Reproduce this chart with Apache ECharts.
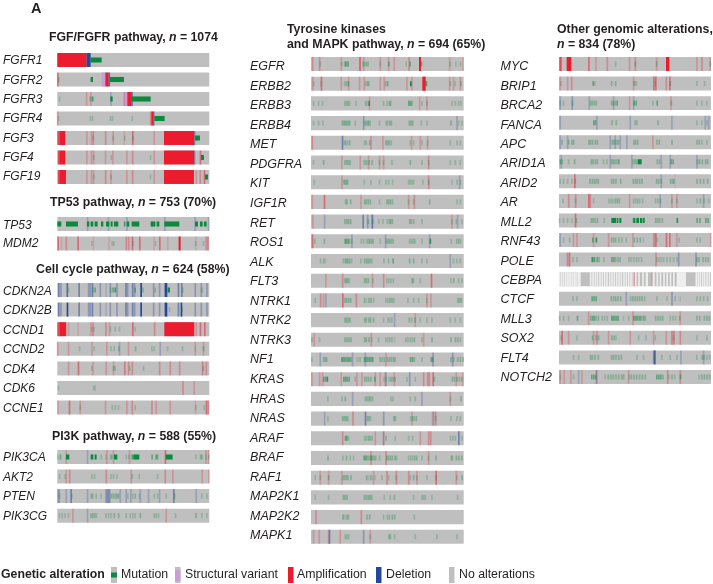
<!DOCTYPE html>
<html><head><meta charset="utf-8">
<style>html,body{margin:0;padding:0;background:#fff}#c{width:713px;height:584px;filter:blur(0.5px)}</style>
<script src="https://cdn.jsdelivr.net/npm/echarts@6/dist/echarts.min.js"></script>
</head><body><div id="c"></div>
<script>
// Sample positions along each track; entry = position, [position, span] or [position, span, density]. m mutation, s structural, a amplification, d deletion, n not profiled
const FGFR1={a:[[172,88]],d:[[260,12]],m:[[272,33]]};
const FGFR2={a:[[172,3],[316,10]],m:[[175,2],[272,7],[330,42]],s:[[305,11]],d:[[326,4]]};
const FGFR3={a:[259,272,372,[382,12]],m:[178,[270,2],[275,3],[279,2],[331,7]],s:[[372,10]],d:[332,[394,4]],M:[[394,58]]};
const FGFR4={a:[[172,2],[451,2],[454,7]],m:[175,271,277,331,337,396],d:[[461,2]],M:[[463,31]]};
const FGF3={a:[[172,6,0.7],[178,18],260,274,[279,2],[316,2],339,[372,1],[397,3],462,[492,91]],m:[279,339,374,398],d:[[583,2]],M:[[585,15]]};
const FGF4={a:[[174,4,0.7],[178,18],260,274,280,316,338,380,[397,2],462,[492,91],[600,3]],m:[281,333,451],d:[[583,2]],M:[[603,9]]};
const FGF19={a:[[174,4,0.7],[178,20],260,274,280,[316,2],332,380,[397,2],462,[492,90],588,[600,2],[612,3]],m:[281,333,451],M:[[615,9]]};
const TP53={M:[[172,12],[198,36],[261,7],[272,8],[284,9],[303,7],[318,10],[332,6],[342,13],[372,4],[380,8],[395,23],[452,14],[470,8],[493,45],[585,9],[600,8],[612,8]],d:[262,325,380,494,585,625]};
const MDM2={a:[[173,3],[184,1],[198,2],[233,3],[280,1],[327,1],[378,2],[385,2],[396,3],[418,3],[462,1],[478,3],[503,1],[536,6],[587,1],[618,2],[623,2]],m:[275,336,341,398,466,587,610]};
const CDKN2A={d:[[175,3],[182,2],[200,4],[236,3],[265,2],[270,2],[276,3],[300,2],[318,1],[330,2],[350,2],[376,4,0.5],[382,2],[396,4,0.5],[403,2],[421,5],[460,2],[478,2],[494,8],[534,3],[544,3],[585,2],[603,2],[620,2]],m:[205,[278,2],[284,3],[331,2],[338,3],[344,4,0.7],[404,3],[428,2],[465,2],[503,7],[547,2],[605,2]]};
const CDKN2B={d:[[175,3],[182,2],[200,5],[236,3],[265,2],[270,2],[276,3],[300,2],[318,1],[330,2],[350,2],[376,4,0.5],[382,2],[396,4,0.5],[403,2],[421,5],[460,2],[478,2],[494,8],[534,3],[542,5],[585,2],[603,2],[620,2]],m:[508,546]};
const CCND1={a:[[172,6,0.7],[178,20],[200,1],[206,1],[234,1],272,[278,2],[317,2],328,[397,3],[463,2],[493,90],588,[600,3],[613,3]],m:[275,281,331,345,358,405,545]};
const CCND2={a:[[172,2],205,275,320,385,585,610],d:[358,480],m:[238,282,332,342,[356,2],[406,2],455,462,502,547,[586,1],[610,2]]};
const CDK4={a:[205,[234,3],278,318,340,[372,5,0.4],[385,2],[396,2],[478,2],[510,2],[538,2],[606,4,0.4],[618,2]],m:[275,[340,2],345,388,430,610]};
const CDK6={a:[[548,2],582],m:[175,280,285]};
const CCNE1={a:[173,[207,3],240,316,380,[396,2],[455,2],468,510,[586,1],[618,3],[624,2]],m:[240,336,345,355,405,587,612]};
const PIK3CA={M:[[198,10],[272,8],[284,6],[342,10],[400,18],[497,21]],m:[173,[180,3],303,317,[331,2],[335,2],378,386,[395,4,0.6],[455,3],[467,3],[471,3],587,[601,2],[605,2],618,626],d:[262],a:[198,320,340,388,[495,3],617,625]};
const AKT2={a:[198,[208,2],[318,2],393,[495,2],518,606,626],m:[178,195,275,283,332,340,350,396,417,472]};
const PTEN={d:[[172,8,0.35],198,[212,3],262,[316,12,0.4],[328,2],360,378,392,420,445,478,[520,3],588],m:[178,215,[273,2],[277,2],288,303,[333,2],[339,2],[345,2],[350,2],[355,2],383,398,[405,2],418,462,472,498,[523,2],605,620]};
const PIK3CG={m:[178,186,195,205,272,276,280,284,289,317,325,332,[342,2],[355,2],378,390,398,405,[420,2],462,468,475,526,[587,2],605,620],a:[218,498],d:[262]};

const EGFR={a:[[217,2],[238,2],303,[358,4,0.6],370,420,445,462,[506,2],[537,6],628,668],m:[240,305,[314,3],[318,3],[323,3],368,[372,2],[378,2],[383,2],420,[445,3],498,[509,3],[543,3],630,647,660]};
const ERBB2={a:[218,[243,3],303,325,358,372,420,432,500,515,[547,10],628,640,660],m:[220,243,313,[318,2],[324,3],376,[381,2],[385,2],436,[441,3],[510,5],[557,4],630,645,[662,2]]};
const ERBB3={a:[388,538,560],m:[220,235,247,314,318,[323,2],328,347,376,380,[385,5,0.8],430,440,[447,2],[451,2],[505,3],[510,3],[515,2],545,560,635,645,655,662]};
const ERBB4={d:[[370,2],650],m:[220,235,248,[306,2],[311,2],[315,2],[319,2],[324,2],[328,2],345,[373,2],[378,2],[383,3],[389,2],418,438,442,[448,2],[453,2],[507,2],[512,2],[517,2],543,560,[632,2],655,665],a:[]};
const MET={a:[[216,2],[392,2],428,514,540,562],d:[[306,3]],m:[312,[316,2],322,[328,2],373,378,[388,2],[437,2],[442,2],[447,2],453,510,520,545,562,630,650,660]};
const PDGFRA={a:[305,360,385,418,430,[565,2]],m:[220,[250,2],[314,2],[319,2],[324,2],[329,2],372,376,380,[386,2],[395,2],418,430,455,[510,2],545,565,630,645,660]};
const KIT={a:[305,[565,2]],d:[658],m:[222,[310,2],[314,2],[318,2],[322,2],372,392,418,437,445,457,505,510,515,520,548,[565,2],635,650,660]};
const IGF1R={a:[216,[252,3],362,505,[522,2]],m:[[316,2],[320,2],[331,2],[373,2],[378,2],[384,2],[390,2],418,[440,2],[445,2],[450,2],[456,2],505,520,[568,2],650,660]};
const RET={a:[218,635],d:[253,[368,3],[382,2],[395,4,0.6],652],m:[[314,2],[320,2],[325,2],[331,2],[384,2],[397,2],416,428,441,[447,2],[451,2],[456,2],[508,2],[513,2],[520,2],545,635,648,665]};
const ROS1={a:[[216,3]],d:[335,436,568],m:[[223,2],[252,2],[314,3],[318,3],[323,3],[328,2],335,363,370,379,384,[388,2],[393,2],[398,2],420,437,[442,2],[447,2],[452,2],[458,2],508,513,518,[523,2],545,[569,4,0.8],633,[649,2],[655,2],661]};
const ALK={d:[630],m:[241,[250,2],[256,1],309,[315,2],[319,2],[323,2],[328,2],334,362,[373,2],[379,2],[384,2],[389,2],395,431,445,[458,3],[508,2],[520,2],545,560,640,650,660]};
const FLT3={a:[257,[307,2],397,[430,2],[573,3]],m:[[314,2],[318,2],[322,2],327,[373,2],[378,2],[384,2],397,440,446,452,459,[515,2],[519,2],540,632,[640,2],655,665]};
const NTRK1={a:[[241,2],250,[307,3],[348,2],560,572],d:[257],m:[225,[314,2],[319,2],[325,2],[331,2],[373,2],[379,1],[386,2],[392,2],400,437,443,[449,2],[455,2],461,503,520,535,560,[653,2],[658,2],[663,2]]};
const NTRK2={a:[525],d:[463],m:[[314,2],[319,2],[324,2],[329,2],[373,2],[378,2],[386,2],[391,2],[400,2],430,443,449,455,[507,2],515,[524,2],540,560,575,630,645,660]};
const NTRK3={a:[222,393,550],m:[[215,2],238,[314,2],[320,2],[326,2],[332,2],[373,2],[378,2],[386,2],394,415,437,443,449,455,[463,1],497,503,510,516,[522,2],545,[575,2],[632,2],[645,2],[652,2],660]};
const NF1={a:[437],d:[240,337,375,[578,2],[637,2]],m:[215,[250,2],[255,2],[259,2],[304,3],[350,1],[355,1],360,[419,2],[425,2],[432,2],[441,2],[447,2],[453,2],[459,2],[464,2],[510,3],[516,3],[522,2],545,[572,3],[577,3],[632,2],[640,2],[652,2],[660,2],[668,2],[308,3],[313,3],[318,3],[323,3],[328,3],[333,2],[372,3],[377,3],[382,3],[387,3],[392,3],[397,3]]};
const KRAS={a:[215,238,247,303,350,365,405,420,435,462,[550,2],[562,2],[567,2],[578,3],648,668],d:[437,[508,2]],m:[[250,3],[255,3],[260,4,0.8],[310,3],[315,3],[320,3],[326,3],345,[373,2],[379,2],[385,2],[392,2],[403,3],431,438,447,[452,2],[458,2],[464,2],500,525,[582,2],[636,2],[642,2],[650,2],[657,2],[664,2]]};
const HRAS={a:[630],d:[337,545],m:[263,305,[315,2],375,[380,2],[386,2],[391,2],397,452,458,510,525,630,[662,2]]};
const NRAS={a:[[338,2],515,577,[586,2]],d:[253,[375,3],[430,2],580],m:[263,[307,2],[312,2],[317,2],[322,2],[381,2],[386,2],391,[461,2],[465,2],511,[517,2],522,[528,2],[586,2],632,650,660]};
const ARAF={a:[[307,2],405,430,540,[565,2],[571,2]],d:[430,[655,3]],m:[[315,3],[319,3],325,373,378,[384,2],[389,2],[395,2],[437,2],465,505,517,631,638,645,665]};
const BRAF={a:[[392,2],[437,2],565],m:[[263,2],308,[318,2],330,340,[371,3],[376,3],[381,2],[386,2],[391,3],[396,2],[401,2],[406,2],418,[439,2],[444,2],[450,2],[456,2],[464,2],469,505,511,517,[523,2],[529,2],545,565,[587,2],633,[636,2],[648,2],[655,2],[664,2]]};
const RAF1={a:[240,265,305,400,[440,2],[468,2],[505,2],530,[587,3],648],m:[225,240,[265,2],[308,2],[313,2],[318,2],[323,2],[332,2],[379,2],[385,1],[391,2],[397,1],[405,1],425,445,468,510,[520,2],530,560,587,650,[665,2]]};
const MAP2K1={m:[225,265,[309,2],[314,2],[320,2],372,376,380,[385,2],[390,2],395,432,450,[462,2],520,545,550,555,575,652]};
const MAP2K2={a:[[227,2],[363,2]],m:[[308,2],[312,1],[317,1],[321,2],325,[380,2],[388,2],430,441,[447,2],[456,2],[463,2],522]};
const MAPK1={a:[220,237,265,300,390],d:[[267,3],[370,2]],m:[315,320,325,390,[446,2],[450,2],463,525,590,650]};

const MYC={a:[[238,7,0.7],[260,14],[325,3],347,[381,2],448,[465,2],529,[558,10],650,[665,2],690],m:[406,[465,2],[529,2],[690,2]]};
const BRIP1={a:[240,262,[274,2],460,[520,3],[526,3],[558,2],[568,3]],m:[242,[338,3],344,[394,2],[406,2],[461,2],[467,2],525,[570,2],650,673]};
const BRCA2={a:[448,572],d:[240,[276,2],327,400,460],m:[240,250,[276,2],[331,2],[336,2],[342,2],[348,2],[394,2],[399,2],[405,2],[410,3],[461,3],[467,3],518,[530,3],[573,2],650,665,680]};
const FANCA={d:[240,350,450,575,675,685],m:[[340,3],[345,3],[395,2],[408,2],[465,2],470,[533,2],650,665,680]};
const APC={a:[518],d:[240,262,390,405,420,440],m:[[245,2],[265,2],[275,2],[280,2],[326,2],[331,2],[337,2],[345,2],[351,2],395,[399,2],[404,2],[410,2],[415,2],[461,2],[466,2],[472,2],[530,2],[537,2],[575,2],[650,2],[657,2],665,680]};
const ARID1A={d:[243,390,455,543,570,650],m:[[240,3],[246,2],265,[283,2],[333,2],[338,2],[345,2],[351,2],370,380,[394,2],[399,2],[404,2],[410,2],[415,3],[459,2],[464,2],[469,2],[473,12],[531,2],[538,2],[572,3],[578,3],[652,2],[658,2],[666,2],[676,2],[682,2]]};
const ARID2={a:[[283,3]],d:[543],s:[[584,3]],m:[240,250,262,275,285,[329,2],[336,2],[342,2],[348,2],[354,2],[394,2],[400,2],[407,2],[421,2],[459,2],[465,2],[471,2],[478,2],[485,2],[529,2],[535,2],[543,2],[571,2],[577,2],[581,2],[650,2],[660,2],[670,2],[682,2]]};
const AR={a:[[265,2],[286,2],[325,3],[330,2],448,575,590],d:[540,670],m:[248,286,340,386,392,398,[405,2],[411,2],[417,2],460,466,472,478,487,526,533,[540,2],575,590,650,[660,2],672,685]};
const MLL2={a:[[285,3]],m:[238,250,262,275,[288,2],[333,2],[338,2],[344,2],[351,2],372,[459,2],[526,2],[532,2],[538,2],[546,2],[590,4,0.8],[650,3],[658,3],[676,3],[683,3]],M:[[394,14],[410,5],[418,6],[460,6],[469,8],[480,6],[488,6]]};
const RNF43={a:[280,290,340,385,458,[520,4,0.4],[526,3],[558,3],[568,3],590,692],d:[240],m:[250,268,[337,3],[347,4,0.8],[394,2],[400,2],[406,2],[416,2],[425,2],438,[462,2],[471,2],[480,2],[489,1],530,597,650,660]};
const POLE={a:[[260,5,0.35],[267,3],[527,2]],d:[[595,2],[647,2]],m:[278,290,[335,4,0.8],[341,4,0.7],[350,3],[356,2],371,[394,3],[400,3],[406,2],[413,2],[419,2],446,452,460,468,475,484,530,536,543,550,560,570,580,590,[650,2],[656,2],[668,2],[676,2],[684,2]]};
const CEBPA={n:[[237,3],[243,3],[249,3],[255,3],[261,2],[266,2],[271,2],[276,3],[282,2],[287,2],[292,10],[331,2],[338,2],[345,2],[351,3],[359,2],[366,2],[373,2],[380,2],[388,2],[395,2],[402,2],[409,2],[416,2],[423,2],[431,2],[438,2],[445,2],[452,2],[459,2],[466,2],[476,2],[488,2],[497,7],[518,6],[530,4],[540,3],[550,4],[560,3],[570,3],[580,3],[590,28],[648,2],[654,2],[660,2],[667,2],[673,2],[680,2],[687,2]],a:[[460,4,0.3],[515,1]]};
const CTCF={d:[438,[575,2]],m:[278,290,[335,3],[341,3],[347,3],[393,2],[400,2],[406,2],[413,2],[421,2],451,[457,2],[464,2],[471,2],[478,2],[485,2],493,530,560,585,[600,1],650,660,670,682]};
const MLL3={a:[325,458,600],m:[238,250,265,[291,3],[331,2],[336,3],[341,3],[347,2],[354,2],366,373,381,[394,3],[398,3],[403,3],[408,3],[413,3],[430,1],445,[460,3],[465,3],[470,3],[476,3],[481,3],[489,3],[495,2],[526,2],[533,2],[540,2],[547,2],570,578,586,[598,2],[650,2],[658,2],[672,2],[680,2],[687,2]]};
const SOX2={a:[[245,3],265,340,[350,2],385,450,520,558,[574,4,0.4],[580,4,0.4],[600,2]],m:[243,290,[337,2],[347,2],[355,2],[395,2],[402,2],[408,1],475,497,525,580,650,680]};
const FLT4={a:[520],d:[[521,6,0.8],[602,1.5],670],m:[280,295,[331,2],[336,2],[344,2],[354,2],[394,2],[400,2],[407,2],[415,2],[423,2],470,490,522,545,570,590,650,[666,2],672,680,688]};
const NOTCH2={a:[240,252,272,305,350,445,[562,2],[600,2]],d:[295,348],m:[240,280,[334,3],[340,3],[346,3],375,[384,2],[392,2],[399,2],[407,2],[415,2],[424,2],[430,2],446,[453,2],[461,2],[469,2],[478,2],[486,2],[495,2],[529,3],[535,3],[541,3],[548,2],565,[575,2],583,[600,3],656,[664,2],[672,2],[680,2],[688,2]]};

const fgfGenes=['FGFR1','FGFR2','FGFR3','FGFR4','FGF3','FGF4','FGF19'];
const tp53Genes=['TP53','MDM2'];
const cycleGenes=['CDKN2A','CDKN2B','CCND1','CCND2','CDK4','CDK6','CCNE1'];
const pi3kGenes=['PIK3CA','AKT2','PTEN','PIK3CG'];
const mapkGenes=['EGFR','ERBB2','ERBB3','ERBB4','MET','PDGFRA','KIT','IGF1R','RET','ROS1','ALK','FLT3','NTRK1','NTRK2','NTRK3','NF1','KRAS','HRAS','NRAS','ARAF','BRAF','RAF1','MAP2K1','MAP2K2','MAPK1'];
const otherGenes=['MYC','BRIP1','BRCA2','FANCA','APC','ARID1A','ARID2','AR','MLL2','RNF43','POLE','CEBPA','CTCF','MLL3','SOX2','FLT4','NOTCH2'];
const legendNames=['Mutation','Structural variant','Amplification','Deletion','No alterations'];

const tracks={FGFR1,FGFR2,FGFR3,FGFR4,FGF3,FGF4,FGF19,TP53,MDM2,CDKN2A,CDKN2B,CCND1,CCND2,CDK4,CDK6,CCNE1,PIK3CA,AKT2,PTEN,PIK3CG,EGFR,ERBB2,ERBB3,ERBB4,MET,PDGFRA,KIT,IGF1R,RET,ROS1,ALK,FLT3,NTRK1,NTRK2,NTRK3,NF1,KRAS,HRAS,NRAS,ARAF,BRAF,RAF1,MAP2K1,MAP2K2,MAPK1,MYC,BRIP1,BRCA2,FANCA,APC,ARID1A,ARID2,AR,MLL2,RNF43,POLE,CEBPA,CTCF,MLL3,SOX2,FLT4,NOTCH2};

const COL={m:'#0b8a3e',s:'#c79fd2',a:'#ec1c2e',d:'#23479f',n:'#eeeeee',bg:'#bfbfbf'};
const FONT='"Liberation Sans",Arial,sans-serif', INK='#231f20';
const columns=[{left:57.3,width:152,min:172,max:628,labelX:1.5,fs:12},{left:311,width:152.7,min:213,max:671,labelX:250,fs:12.5},{left:559,width:152,min:237,max:693,labelX:500.5,fs:12.5}];
const blocks=[
 {genes:fgfGenes,col:0,c0:60,pitch:19.5,lc:61,lp:19.3},
 {genes:tp53Genes,col:0,c0:224,pitch:19.5,lc:226,lp:17.5},
 {genes:cycleGenes,col:0,c0:290,pitch:19.6,lc:291.7,lp:19.45},
 {genes:pi3kGenes,col:0,c0:457,pitch:19.55,lc:457.7,lp:19.67},
 {genes:mapkGenes,col:1,c0:64,pitch:19.7,lc:66.7,lp:19.55},
 {genes:otherGenes,col:2,c0:64,pitch:19.56,lc:66.7,lp:19.44}
];
const grid=[],xAxis=[],yAxis=[],series=[];
const SOFT=5; // thin spans are drawn over a wider band and proportionally paler
function render(kind){return function(params,api){
  const i=api.value(1), s=api.value(0), span=api.value(2), density=api.value(3);
  const drawn=Math.max(span,SOFT), start=s+span/2-drawn/2;
  const p0=api.coord([start,i]), x1=api.coord([start+drawn,i])[0];
  const band=api.size([0,1])[1], h=band*(kind==='m'?0.26:0.715);
  const shape={x:p0[0],y:p0[1]-h/2,width:x1-p0[0],height:h};
  if(kind==='bg')return {type:'rect',shape,style:{fill:COL.bg}};
  const op=kind==='n'?1:(density>0?density:(span>=SOFT?1:(span/SOFT)*0.85));
  return {type:'rect',shape,style:{fill:echarts.color.modifyAlpha(COL[kind],op),stroke:null,lineWidth:0}};
};}
blocks.forEach((b,idx)=>{
  const c=columns[b.col];
  grid.push({left:c.left,width:c.width,top:b.c0-b.pitch/2,height:b.pitch*b.genes.length});
  xAxis.push({type:'value',gridIndex:idx,min:c.min,max:c.max,show:false});
  yAxis.push({type:'category',gridIndex:idx,inverse:true,data:b.genes,axisLine:{show:false},axisTick:{show:false},axisLabel:{show:false}});
  const rows={bg:[],n:[],s:[],a:[],d:[],m:[]};
  b.genes.forEach((g,i)=>{
    rows.bg.push([c.min,i,c.max-c.min,0]);
    const t=tracks[g];
    const add=(list,k,def)=>(list||[]).forEach(e=>{const a=Array.isArray(e)?e:[e,def];rows[k].push([a[0],i,a[1],a[2]||0]);});
    add(t.n,'n',1.5);add(t.s,'s',1.5);add(t.a,'a',1.5);add(t.d,'d',1.5);add(t.m,'m',1.5);add(t.M,'m',1.5);
  });
  ['bg','n','s','a','d','m'].forEach((k,zi)=>{
    series.push({type:'custom',xAxisIndex:idx,yAxisIndex:idx,renderItem:render(k),data:rows[k],clip:false,silent:true,z:2+zi,
      encode:{x:[0],y:1},animation:false});
  });
});
// gene names sit on their own slightly different spacing, so they get a separate axis
blocks.forEach((b,i)=>{
  const c=columns[b.col], idx=blocks.length+i;
  grid.push({left:c.left,width:c.width,top:b.lc-b.lp/2,height:b.lp*b.genes.length});
  xAxis.push({type:'value',gridIndex:idx,min:c.min,max:c.max,show:false});
  yAxis.push({type:'category',gridIndex:idx,inverse:true,data:b.genes,axisLine:{show:false},axisTick:{show:false},
    axisLabel:{align:'left',margin:c.left-c.labelX,fontFamily:FONT,fontStyle:'italic',fontSize:c.fs,color:INK}});
});
const rich={b:{fontFamily:FONT,fontWeight:'bold',fontSize:12.3,color:INK},i:{fontFamily:FONT,fontWeight:'bold',fontStyle:'italic',fontSize:12.3,color:INK}};
function T(text,left,y){return {text,left,top:y-6,padding:0,textStyle:{rich,fontFamily:FONT,fontSize:12.3,fontWeight:'bold',color:INK}};}
const title=[
 {text:'A',left:31,top:1,padding:0,textStyle:{fontFamily:FONT,fontSize:14.5,fontWeight:'bold',color:INK}},
 T('{b|FGF/FGFR pathway, }{i|n}{b| = 1074}',49,38),
 T('{b|TP53 pathway, }{i|n}{b| = 753 (70%)}',50,203),
 T('{b|Cell cycle pathway, }{i|n}{b| = 624 (58%)}',36,270),
 T('{b|PI3K pathway, }{i|n}{b| = 588 (55%)}',52,437),
 T('{b|Tyrosine kinases}',287,30),
 T('{b|and MAPK pathway, }{i|n}{b| = 694 (65%)}',287,45),
 T('{b|Other genomic alterations,}',557,30),
 T('{i|n}{b| = 834 (78%)}',557,45)
];
const LY=575;
const txt=(x,t,extra)=>({type:'text',x,y:LY,style:Object.assign({text:t,fontFamily:FONT,fontSize:12.3,fill:INK,textVerticalAlign:'middle',textBaseline:'middle'},extra||{})});
const rect=(x,y,w,h,fill)=>({type:'rect',shape:{x,y,width:w,height:h},style:{fill}});
const graphic=[
 txt(1,'Genetic alteration',{fontWeight:'bold',fontSize:12.3}),
 rect(111,567,6,16,COL.bg),rect(111,572.5,6,5,COL.m),txt(121,legendNames[0]),
 rect(175,567,5.5,16,COL.bg),rect(175,570,5.5,11,COL.s),txt(185,legendNames[1]),
 rect(288,567,5.5,16,COL.a),txt(297,legendNames[2]),
 rect(376,567,5.5,16,COL.d),txt(386,legendNames[3]),
 rect(449,567,5.5,16,COL.bg),txt(459,legendNames[4])
];
const chart=echarts.init(document.getElementById('c'),null,{renderer:'canvas'});
chart.setOption({animation:false,backgroundColor:'#fff',title,grid,xAxis,yAxis,series,graphic,tooltip:{show:false}});
</script></body></html>
